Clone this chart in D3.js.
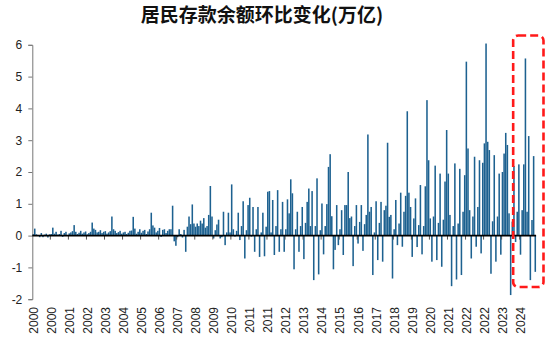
<!DOCTYPE html>
<html>
<head>
<meta charset="utf-8">
<script src="https://cdn.jsdelivr.net/npm/d3@7/dist/d3.min.js"></script>
<style>
  html, body { margin: 0; padding: 0; background: #ffffff; }
  svg { display: block; }
</style>
</head>
<body>
<div id="chart"></div>
<script>
// ---- Data (万亿元, monthly change of household deposits, Jan 2000 – Jul 2025) ----
const startYear = 2000;
const v2000 = [0.05, 0.22, 0.04, 0.02, -0.05, 0.08, -0.05, 0.03, 0.06, -0.06, 0.04, 0.05];
const v2001 = [0.25, 0.06, 0.12, 0.03, 0.05, 0.15, -0.04, 0.08, 0.12, 0.02, 0.07, 0.10];
const v2002 = [0.14, 0.33, 0.12, 0.05, 0.09, 0.15, 0.06, 0.10, 0.13, 0.04, 0.08, 0.12];
const v2003 = [0.41, 0.22, 0.18, 0.10, 0.12, 0.17, 0.08, 0.12, 0.14, 0.06, 0.10, 0.14];
const v2004 = [0.60, 0.20, 0.15, 0.08, 0.11, 0.15, 0.06, 0.10, 0.12, 0.05, 0.09, 0.15];
const v2005 = [0.16, 0.59, 0.22, 0.06, 0.12, 0.20, 0.09, 0.15, 0.18, 0.05, 0.13, 0.20];
const v2006 = [0.72, 0.32, 0.25, 0.10, 0.15, 0.24, -0.04, 0.18, 0.20, 0.08, 0.15, 0.20];
const v2007 = [0.20, 0.94, -0.18, -0.32, -0.05, 0.20, 0.05, -0.06, 0.18, -0.51, 0.28, 0.60];
const v2008 = [0.36, 0.98, 0.38, 0.28, 0.38, 0.30, 0.47, 0.38, 0.55, 0.25, 0.30, 0.65];
const v2009 = [1.56, 0.60, -0.09, 0.17, 0.35, 0.50, -0.09, -0.05, 0.75, -0.30, 0.10, 0.72];
const v2010 = [0.10, 1.61, 0.20, -0.03, 0.15, 0.72, -0.14, 0.30, 1.08, -0.72, 0.17, 0.96];
const v2011 = [1.19, -0.03, 0.90, -0.51, 0.20, 0.90, -0.67, 0.10, 0.72, -0.65, 0.28, 1.38];
const v2012 = [1.40, 0.10, 1.12, -0.61, 0.30, 1.43, -0.51, 0.20, 1.06, -0.51, 0.20, 1.14];
const v2013 = [0.70, 1.77, 1.33, -1.06, 0.20, 0.75, -0.51, 0.30, 0.90, -0.74, 0.40, 1.06];
const v2014 = [1.48, 0.30, 1.40, -1.40, 0.30, 1.80, -1.22, 0.17, 1.01, -0.59, 0.30, 0.99];
const v2015 = [2.16, 2.56, 0.61, -1.06, -0.45, 0.96, -0.30, 0.20, 0.80, -0.61, 0.96, 0.96];
const v2016 = [2.00, 0.55, 0.60, -0.96, 0.30, 0.96, -0.25, 0.43, 0.96, -0.48, 0.36, 0.65];
const v2017 = [3.18, 0.75, 0.90, -1.24, 0.10, 1.08, -0.77, 0.40, 1.06, -0.82, 0.80, 0.94];
const v2018 = [2.92, 0.59, 0.65, -1.35, 0.20, 1.12, -0.30, 0.38, 1.35, -0.35, 0.75, 1.25];
const v2019 = [3.91, 1.35, 0.90, -0.67, 0.54, 1.17, -0.36, 0.33, 1.59, -0.59, 0.30, 1.55];
const v2020 = [4.26, 2.37, 0.54, -0.82, 0.60, 2.20, -0.77, 0.40, 1.95, -0.98, 0.50, 1.70];
const v2021 = [3.32, 1.95, 0.65, -1.59, 0.30, 2.27, -1.38, 0.38, 2.10, -1.24, 0.75, 1.90];
const v2022 = [5.47, 2.74, 0.80, -0.72, 0.60, 2.48, -0.35, 0.90, 2.37, -0.56, 2.29, 2.90];
const v2023 = [6.04, 2.95, 2.69, -1.20, 0.45, 2.53, -0.82, 0.60, 1.95, -0.60, 2.00, 2.58];
const v2024 = [3.23, 2.85, 0.70, -1.87, 0.44, 2.19, -0.20, 0.75, 2.24, -0.60, 0.80, 2.24];
const v2025 = [5.57, 0.75, 3.13, -1.40, 0.49, 2.50, -1.14];

const tickLabels = ["2000","2000","2001","2002","2003","2004","2005","2006","2007","2008",
  "2009","2010","2011","2011","2012","2013","2014","2015","2016","2017","2018","2019",
  "2020","2021","2022","2022","2023","2024"];
const yTicks = [-2, -1, 0, 1, 2, 3, 4, 5, 6];
const labelEvery = 11;          // months between axis labels
const highlightFrom = 293;      // index of first month inside the red box (Jun 2024)

const values = [].concat(v2000, v2001, v2002, v2003, v2004, v2005, v2006, v2007, v2008,
  v2009, v2010, v2011, v2012, v2013, v2014, v2015, v2016, v2017, v2018, v2019, v2020,
  v2021, v2022, v2023, v2024, v2025);
const categories = values.map((d, i) => (startYear + Math.floor(i / 12)) + "-" + String(i % 12 + 1).padStart(2, "0"));

// ---- Layout ----
const W = 550, H = 343;
const plotL = 32.3, plotR = 536.1, yTop = 44.8, yBot = 299.2;

const svg = d3.select("#chart").append("svg").attr("width", W).attr("height", H);

const x = d3.scaleBand().domain(categories).range([plotL, plotR]).paddingInner(0.06).paddingOuter(0.03);
const y = d3.scaleLinear().domain([-2, 6]).range([yBot, yTop]);
const step = x.step();

// Title
svg.append("text")
  .attr("x", 262).attr("y", 21.5)
  .attr("text-anchor", "middle")
  .attr("font-family", "'Noto Sans CJK SC', sans-serif")
  .attr("font-weight", "bold")
  .attr("font-size", 19)
  .attr("fill", "#111")
  .text("居民存款余额环比变化(万亿)");

// Bars
svg.append("g").selectAll("rect").data(values).join("rect")
  .attr("x", (d, i) => x(categories[i]))
  .attr("width", x.bandwidth())
  .attr("y", d => y(Math.max(0, d)))
  .attr("height", d => Math.abs(y(d) - y(0)))
  .attr("fill", "#1d6190");

// Y axis
const yAxis = svg.append("g").attr("transform", `translate(${plotL},0)`)
  .call(d3.axisLeft(y).tickValues(yTicks).tickSize(4).tickPadding(6).tickFormat(d => String(d)));
yAxis.select(".domain").attr("stroke", "#777").attr("stroke-width", 1);
yAxis.selectAll(".tick line").attr("stroke", "#777");
yAxis.selectAll(".tick text")
  .attr("font-family", "'Liberation Sans', Arial, sans-serif")
  .attr("font-size", 12).attr("fill", "#222");

// Zero line (category axis) with tick marks every 11 months
const bandIdx = d3.range(labelEvery, values.length, labelEvery);
svg.append("g").selectAll("line").data(bandIdx).join("line")
  .attr("x1", i => x(categories[i]) - step * x.paddingInner() / 2)
  .attr("x2", i => x(categories[i]) - step * x.paddingInner() / 2)
  .attr("y1", y(0)).attr("y2", y(0) + 4)
  .attr("stroke", "#555").attr("stroke-width", 1);
svg.append("line")
  .attr("x1", plotL).attr("x2", plotR)
  .attr("y1", y(0)).attr("y2", y(0))
  .attr("stroke", "#000").attr("stroke-width", 1.6);

// X labels
svg.append("g").selectAll("text").data(tickLabels).join("text")
  .attr("transform", (d, k) => {
    const c = categories[k * labelEvery];
    return `translate(${x(c) + x.bandwidth() / 2 + 0.5},307) rotate(-90)`;
  })
  .attr("text-anchor", "end")
  .attr("dominant-baseline", "central")
  .attr("font-family", "'Liberation Sans', Arial, sans-serif")
  .attr("font-size", 12)
  .attr("fill", "#222")
  .text(d => d);

// Red dashed highlight box
const boxX0 = x(categories[highlightFrom]);
svg.append("rect")
  .attr("x", boxX0).attr("y", 35.5)
  .attr("width", 543.5 - boxX0).attr("height", 251.5)
  .attr("rx", 5).attr("ry", 5)
  .attr("fill", "none")
  .attr("stroke", "#ff1a1a").attr("stroke-width", 2.6)
  .attr("stroke-dasharray", "8,4");
</script>
</body>
</html>
